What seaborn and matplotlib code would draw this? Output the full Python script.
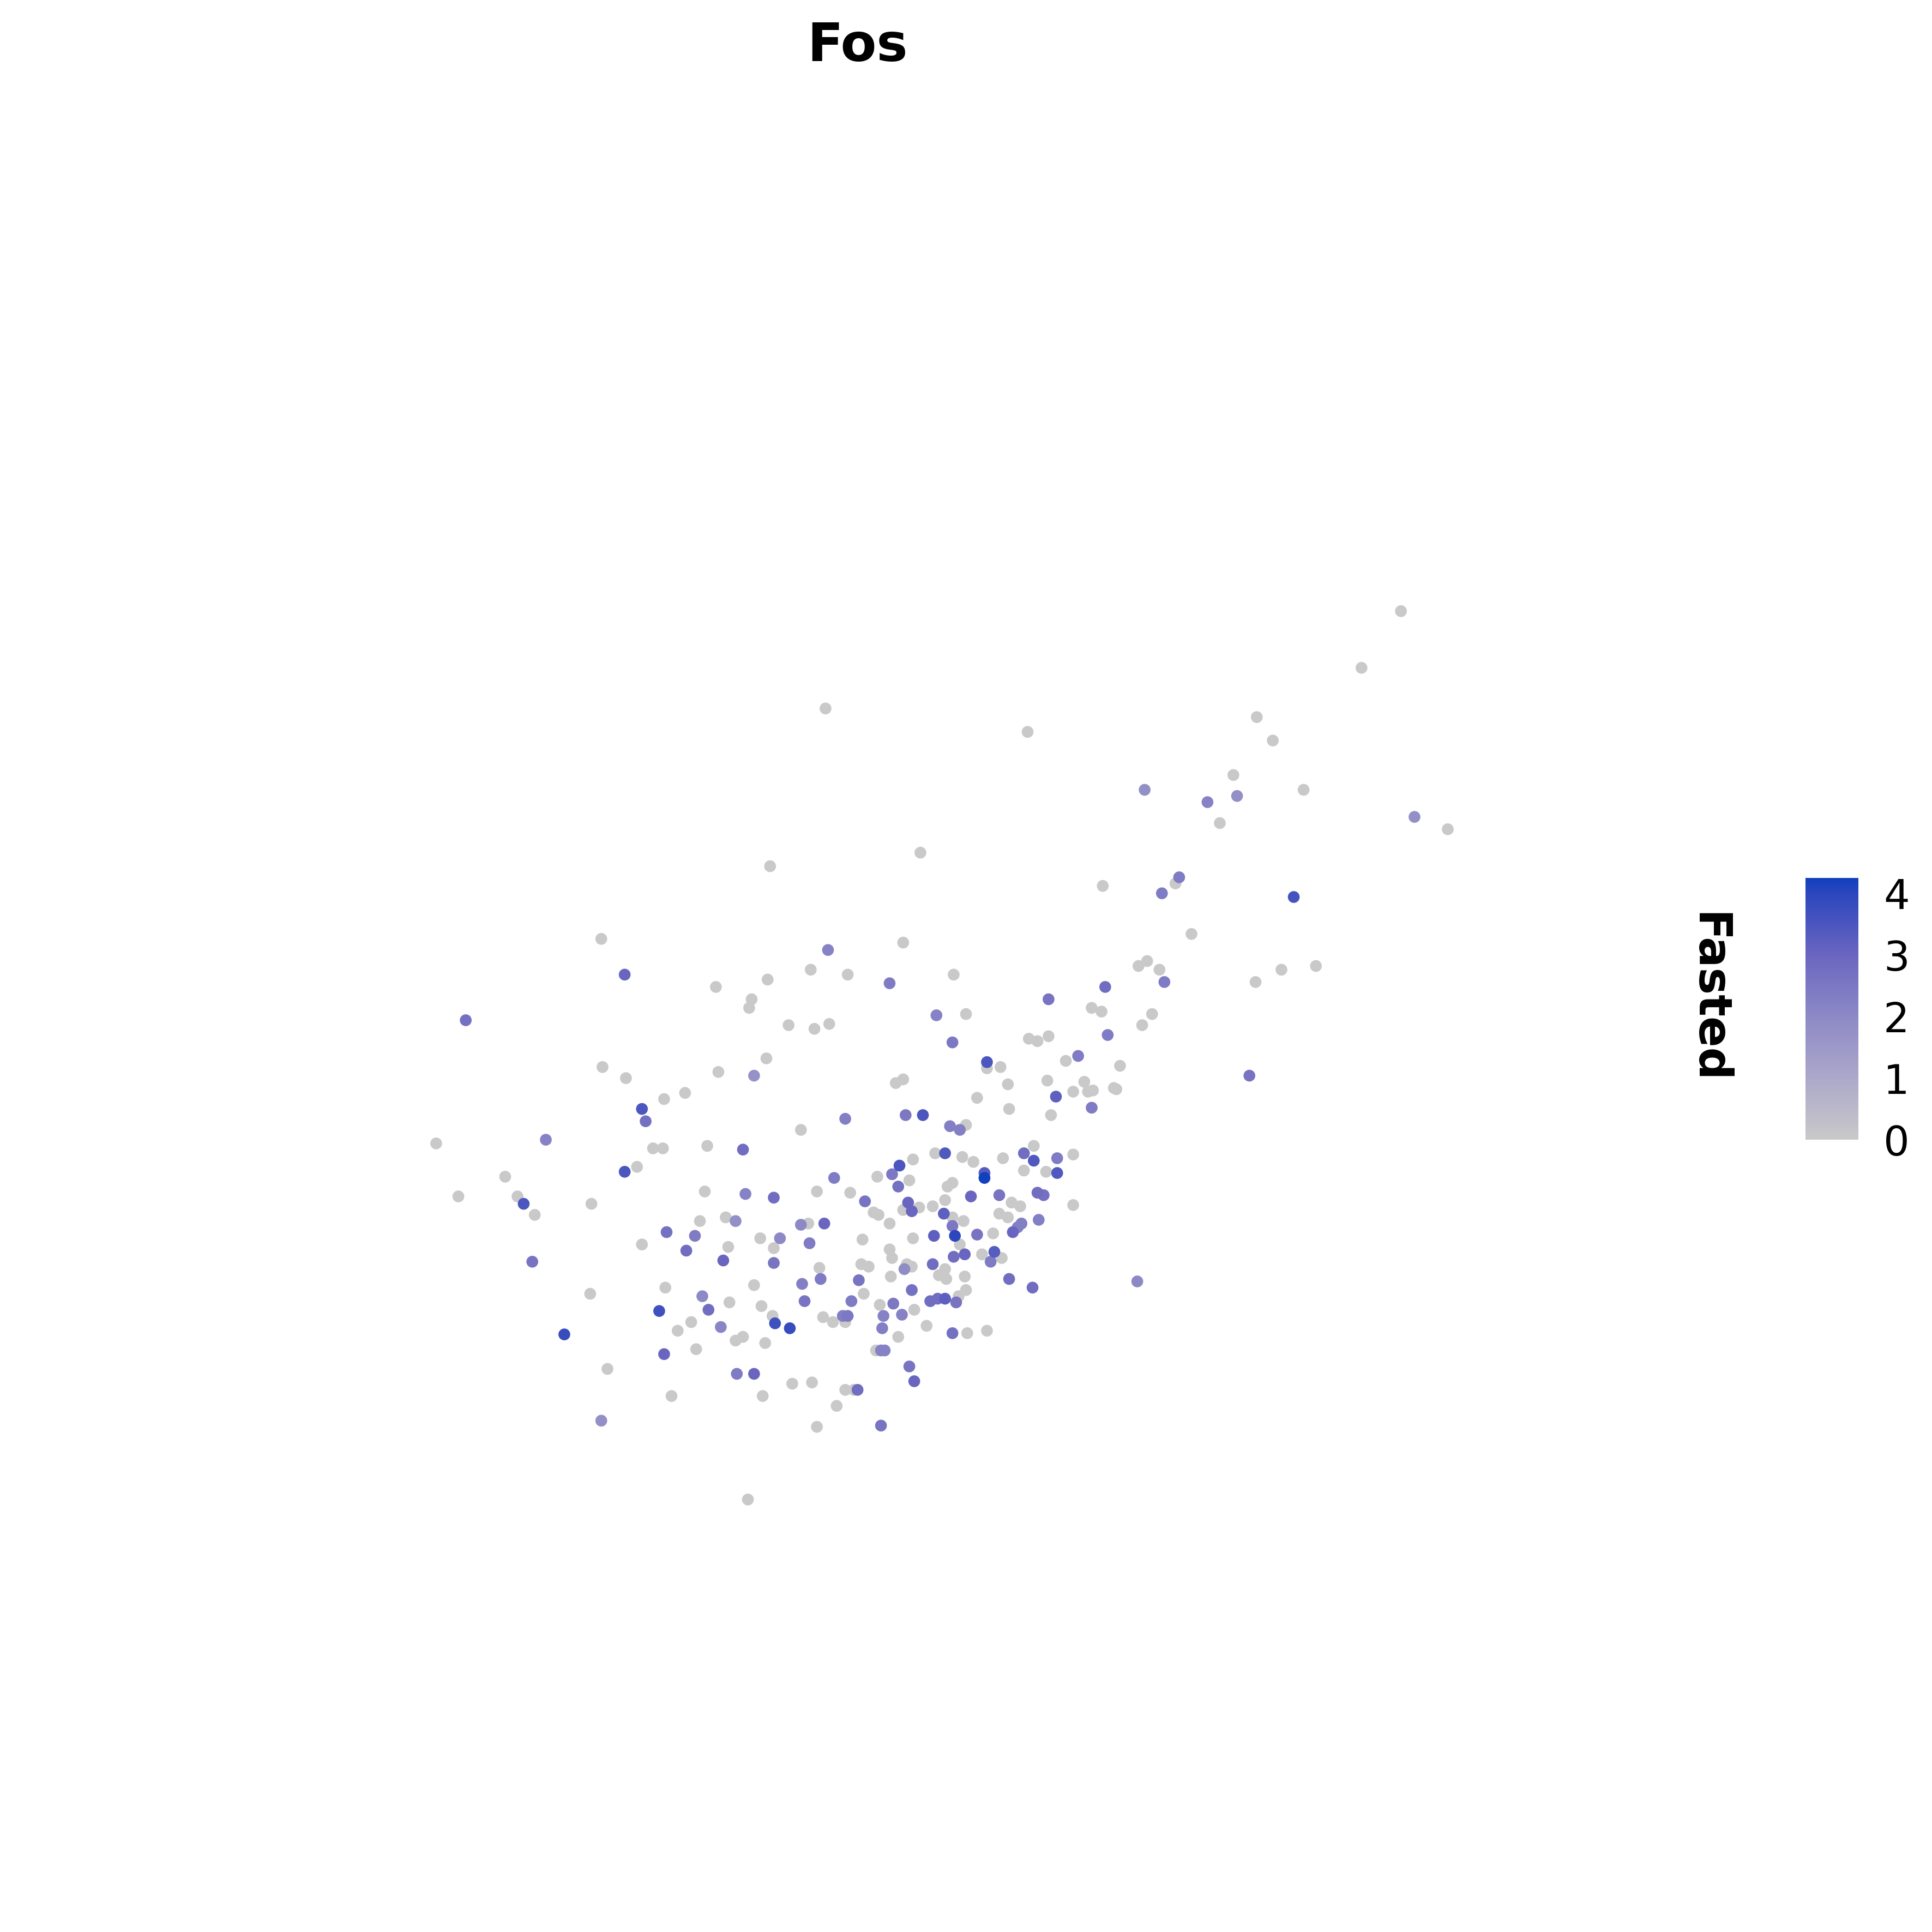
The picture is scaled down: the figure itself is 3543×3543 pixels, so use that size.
import numpy as np
import pandas as pd
import matplotlib
matplotlib.use("Agg")
import matplotlib.pyplot as plt
import seaborn as sns
from matplotlib.colors import LinearSegmentedColormap, Normalize
from matplotlib.cm import ScalarMappable

# ---- data: embedding coordinates and expression ----
umap_1 = [1137, 1105, 670, 834, 1020, 1033, 929, 1001, 1004, 980, 1058, 990, 1148, 1175,
          625, 747, 895, 957, 954, 943, 1050, 967, 488, 733, 672, 924, 931, 941, 1040, 1068,
          507, 688, 774, 658, 623, 581, 722, 945, 897, 1019, 610, 608, 851, 886, 894, 935,
          378, 640, 661, 673, 760, 784, 927, 899, 835, 842, 851, 773, 875, 801, 812, 801,
          865, 909, 489, 583, 622, 612, 1014, 727, 733, 818, 850, 880, 508, 556, 539, 793,
          857, 871, 883, 887, 904, 906, 521, 524, 735, 749, 686, 819, 853, 886, 771, 779,
          784, 650, 443, 354, 530, 538, 574, 603, 759, 767, 781, 790, 839, 831, 814, 839,
          858, 871, 741, 507, 517, 410, 677, 712, 724, 730, 799, 799, 831, 849, 858, 738,
          773, 769, 729, 372, 420, 425, 434, 480, 572, 605, 628, 663, 690, 702, 737, 740,
          733, 746, 757, 767, 788, 811, 821, 828, 842, 847, 871, 589, 597, 568, 713, 709,
          722, 766, 773, 782, 811, 818, 829, 826, 843, 650, 656, 669, 541, 564, 521, 617,
          633, 700, 741, 758, 775, 773, 793, 806, 822, 657, 591, 557, 628, 779, 783, 797,
          807, 813, 774, 804, 722, 724, 432, 587, 628, 665, 699, 705, 736, 734, 740, 757,
          767, 723, 762, 768, 783, 819, 838, 923, 666, 697, 540, 612, 651, 740, 784, 479,
          570, 592, 618, 653, 691, 701, 714, 725, 755, 761, 767, 776, 778, 575, 535, 627,
          717, 732, 742, 561, 629, 641, 668, 676, 684, 688, 686, 550, 585, 716, 752, 773,
          785, 801, 458, 597, 603, 621, 729, 565, 539, 711, 715, 718, 493, 598, 612, 738,
          643, 659, 742, 545, 619, 686, 696, 693, 679, 488, 663, 715, 607]
umap_2 = [496, 542, 575, 594, 582, 601, 641, 629, 646, 651, 641, 668, 663, 673,
          703, 692, 719, 712, 717, 725, 728, 758, 762, 765, 771, 784, 780, 787, 787, 784,
          791, 791, 791, 787, 795, 801, 798, 797, 801, 797, 811, 818, 811, 818, 821, 823,
          828, 832, 835, 831, 824, 823, 832, 840, 843, 845, 841, 846, 857, 862, 866, 867,
          861, 865, 866, 870, 859, 873, 873, 879, 876, 880, 877, 878, 875, 887, 892, 891,
          890, 886, 886, 885, 883, 884, 900, 910, 905, 905, 908, 900, 905, 899, 914, 917,
          913, 917, 925, 928, 932, 932, 930, 933, 936, 936, 939, 943, 930, 936, 940, 942,
          940, 937, 941, 951, 947, 955, 956, 955, 953, 946, 952, 956, 950, 951, 952, 958,
          960, 963, 963, 971, 971, 977, 986, 977, 967, 969, 972, 967, 968, 975, 976, 983,
          982, 980, 979, 974, 971, 970, 976, 979, 968, 970, 978, 988, 991, 991, 986, 984,
          993, 985, 988, 991, 985, 988, 993, 996, 990, 994, 993, 993, 1000, 1003, 1010, 1005,
          1005, 1006, 1005, 1003, 1003, 995, 1002, 1001, 1000, 1009, 1012, 1015, 1013, 1010, 1018, 1018,
          1016, 1021, 1020, 1024, 1014, 1021, 1024, 1023, 1025, 1029, 1026, 1028, 1026, 1030, 1028, 1026,
          1030, 1036, 1035, 1038, 1036, 1038, 1045, 1040, 1038, 1039, 1045, 1043, 1042, 1047, 1047, 1050,
          1052, 1057, 1060, 1056, 1056, 1050, 1059, 1058, 1056, 1054, 1054, 1057, 1052, 1063, 1064, 1068,
          1068, 1067, 1063, 1073, 1074, 1078, 1069, 1073, 1068, 1068, 1073, 1080, 1077, 1078, 1076, 1082,
          1082, 1080, 1083, 1088, 1085, 1090, 1085, 1095, 1099, 1096, 1096, 1096, 1111, 1115, 1115, 1109,
          1123, 1122, 1121, 1133, 1133, 1128, 1128, 1128, 1141, 1153, 1158, 1157, 1217]
fasted = [0, 0, 0, 0, 0, 0, 1.8, 0, 1.8, 2.2, 0, 0, 1.8, 0,
          0, 0, 0, 2.4, 0, 2.4, 3.6, 0, 0, 0, 2.2, 0, 0, 0, 0, 0,
          3.0, 0, 0, 0, 0, 0, 2.4, 2.4, 2.8, 0, 0, 0, 2.6, 0, 0, 0,
          2.7, 0, 0, 0, 2.2, 0, 0, 2.4, 0, 0, 0, 2.5, 2.4, 3.5, 0, 0,
          0, 0, 0, 0, 0, 1.7, 2.6, 0, 0, 0, 0, 0, 0, 0, 0, 0,
          3.2, 0, 0, 0, 0, 0, 3.5, 2.7, 2.5, 3.5, 2.3, 0, 0, 2.4, 2.3, 2.3,
          0, 0, 2.2, 0, 0, 0, 0, 2.8, 0, 3.4, 0, 0, 0, 2.8, 0, 3.4,
          2.4, 0, 0, 3.5, 0, 0, 2.4, 0, 2.5, 3.5, 3.3, 4.25, 0, 0, 3.4, 0,
          0, 0, 2.7, 0, 0, 3.5, 0, 0, 0, 2.2, 2.8, 0, 0, 2.6, 3.0, 3.0,
          0, 0, 0, 0, 3.0, 2.6, 0, 0, 2.8, 2.7, 0, 0, 1.8, 0, 0, 0,
          0, 3.2, 0, 0, 0, 0, 2.3, 2.3, 2.3, 2.0, 0, 3.0, 2.7, 2.4, 0, 0,
          2.0, 0, 0, 3.2, 4.0, 2.5, 2.6, 0, 3.0, 2.4, 0, 2.8, 0, 0, 3.0, 0,
          3.3, 0, 2.8, 2.4, 0, 0, 2.6, 3.0, 2.6, 0, 0, 0, 0, 1.9, 0, 2.8,
          0, 0, 0, 0, 0, 2.8, 2.8, 2.0, 2.4, 2.6, 0, 0, 2.3, 2.7, 0, 0,
          2.0, 0, 0, 2.6, 2.4, 0, 0, 2.5, 2.8, 2.8, 3.2, 2.6, 0, 2.8, 3.7, 0,
          2.2, 2.2, 0, 0, 3.7, 3.8, 0, 0, 2.3, 2.5, 0, 0, 2.1, 2.3, 0, 2.7,
          0, 0, 3.8, 0, 0, 0, 0, 0, 3.0, 0, 2.2, 2.2, 0, 2.4, 3.0, 2.6,
          0, 0, 3.0, 0, 0, 0, 2.8, 0, 0, 1.8, 0, 2.6, 0]

cbar_ticks = [0, 1, 2, 3, 4]
vmax = 4.25

df = pd.DataFrame({"UMAP_1": umap_1, "UMAP_2": umap_2, "Fasted": fasted})
df = df.sort_values("Fasted", kind="stable")

cmap = LinearSegmentedColormap.from_list(
    "fasted",
    [(0.0, "#C9C9C9"), (1 / vmax, "#ACA8CA"), (2 / vmax, "#8D89C6"),
     (3 / vmax, "#6A66C0"), (4 / vmax, "#2C46BE"), (1.0, "#1240BE")])
norm = Normalize(0, vmax)

W = H = 3543
dpi = 300
sns.set_style("white")
plt.rcParams["font.family"] = ["DejaVu Sans"]
plt.rcParams["text.color"] = "black"
fig = plt.figure(figsize=(W / dpi, H / dpi), dpi=dpi)

ax = fig.add_axes([0, 0, 1, 1])
sns.scatterplot(data=df, x="UMAP_1", y="UMAP_2", hue="Fasted", palette=cmap,
                hue_norm=norm, s=27, linewidth=0, legend=False, ax=ax)
ax.set_xlim(0, 1568)
ax.set_ylim(1568, 0)
ax.set_axis_off()

fig.text(696 / 1568, 1 - 38 / 1568, "Fos", ha="center", va="center",
         fontsize=23, fontweight="bold", color="black")

cax = fig.add_axes([3311 / W, 1 - 2090 / H, 97 / W, 480 / H])
sm = ScalarMappable(norm=norm, cmap=cmap)
cb = fig.colorbar(sm, cax=cax, ticks=cbar_ticks)
cb.outline.set_visible(False)
cax.yaxis.set_ticks_position("both")
cax.tick_params(axis="y", direction="in", colors="white", length=4.8, width=0.8,
                labelcolor="black", labelsize=18, pad=11, labelleft=False,
                labelright=True)
fig.text(3132 / W, 1 - 1830 / H, "Fasted", rotation=270, ha="center", va="center",
         fontsize=20, fontweight="bold", color="black")

fig.savefig("out.png", dpi=dpi, facecolor="white")
